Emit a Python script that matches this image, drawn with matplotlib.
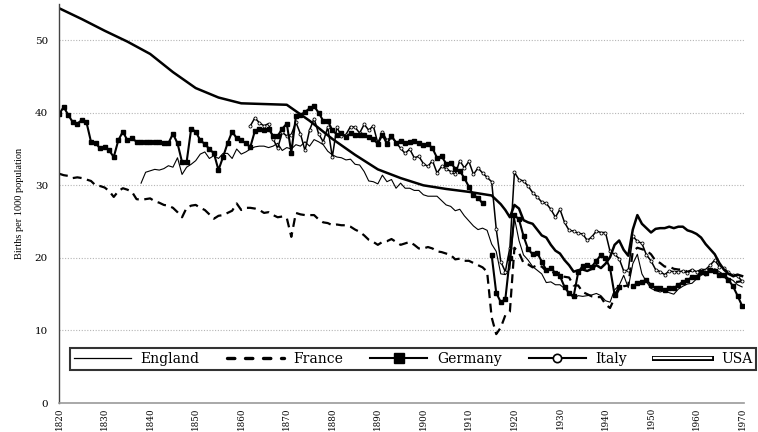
import numpy as np
import matplotlib
matplotlib.use("Agg")
import matplotlib.pyplot as plt
from matplotlib.lines import Line2D
import matplotlib.patheffects as pe

plt.rcParams['font.family'] = ['DejaVu Serif', 'Liberation Serif']

# ---------------- data (births per 1000 population) ----------------
england_years = list(range(1838, 1971))
england = [30.3, 31.8, 32.0, 32.2, 32.1, 32.3, 32.7, 32.5, 33.8, 31.5,
           32.5, 32.9, 33.4, 34.3, 34.6, 33.7, 34.1, 33.7, 34.4, 34.4,
           33.7, 35.0, 34.3, 34.6, 35.0, 35.3, 35.4, 35.4, 35.2, 35.4,
           35.8, 34.8, 35.2, 35.0, 35.6, 35.4, 36.0, 35.4, 36.3, 36.0,
           35.6, 34.7, 34.2, 33.9, 33.8, 33.5, 33.6, 32.9, 32.8, 31.9,
           30.6, 30.5, 30.2, 31.4, 30.5, 30.8, 29.6, 30.3, 29.6, 29.6,
           29.3, 29.3, 28.7, 28.5, 28.5, 28.5, 27.9, 27.3, 27.1, 26.5,
           26.7, 25.8, 25.1, 24.4, 23.9, 24.1, 23.8, 21.9, 20.9, 17.8,
           17.7, 18.5, 25.5, 22.4, 20.4, 19.7, 18.8, 18.3, 17.8, 16.6,
           16.7, 16.3, 16.3, 15.8, 15.3, 14.4, 14.8, 14.7, 14.8, 14.9,
           15.1, 14.8, 14.1, 13.9, 15.6, 16.2, 17.6, 15.9, 19.2, 20.5,
           17.8, 16.7, 15.8, 15.5, 15.3, 15.5, 15.2, 15.0, 15.7, 16.1,
           16.4, 16.5, 17.1, 17.6, 18.0, 18.2, 18.5, 18.1, 17.7, 17.2,
           16.9, 16.3, 16.0]

france_years = list(range(1820, 1971))
france = [31.6, 31.4, 31.3, 31.0, 31.1, 31.0, 30.8, 30.6, 30.0, 29.9,
          29.7, 29.2, 28.4, 29.2, 29.6, 29.4, 29.1, 28.1, 28.0, 28.1,
          28.2, 27.8, 27.6, 27.3, 27.2, 26.9, 26.3, 25.6, 26.9, 27.2,
          27.3, 26.9, 26.6, 26.0, 25.4, 25.8, 25.9, 26.2, 26.5, 27.5,
          26.6, 26.9, 26.9, 26.8, 26.6, 26.2, 26.3, 25.9, 25.6, 25.7,
          25.5, 22.9, 26.2, 26.0, 25.9, 25.9, 25.9, 25.3, 24.9, 24.8,
          24.5, 24.6, 24.5, 24.5, 24.3, 23.9, 23.6, 23.1, 22.5, 22.2,
          21.8, 22.2, 22.3, 22.6, 22.2, 21.8, 22.0, 22.2, 21.8, 21.3,
          21.3, 21.5, 21.3, 20.9, 20.8, 20.6, 20.4, 19.8, 19.9, 19.6,
          19.6, 19.3, 19.0, 18.7, 18.1, 11.8, 9.5, 10.4, 12.1, 12.6,
          21.4, 20.7, 19.3, 19.1, 18.7, 19.0, 18.8, 18.2, 18.3, 17.7,
          18.0, 17.4, 17.3, 16.2, 16.2, 15.3, 15.0, 14.7, 14.6, 14.6,
          13.6, 13.1, 14.5, 15.7, 16.1, 16.2, 20.9, 21.4, 21.2, 21.0,
          20.5, 19.6, 19.3, 18.8, 18.8, 18.5, 18.4, 18.4, 18.1, 18.3,
          17.9, 18.1, 17.6, 18.1, 18.1, 17.7, 17.5, 16.9, 16.7, 16.7,
          16.8]

germany_years = list(range(1820, 1971))
germany = [39.8, 40.8, 39.7, 38.7, 38.5, 39.0, 38.7, 36.0, 35.8, 35.1,
           35.3, 34.8, 33.9, 36.2, 37.4, 36.2, 36.5, 36.0, 36.0, 36.0,
           36.0, 36.0, 36.0, 35.8, 35.8, 37.1, 35.8, 33.2, 33.2, 37.8,
           37.4, 36.2, 35.7, 35.0, 34.4, 32.1, 33.9, 35.8, 37.4, 36.5,
           36.2, 35.8, 35.3, 37.5, 37.8, 37.6, 37.8, 36.8, 36.8, 37.8,
           38.5, 34.5, 39.5, 39.7, 40.1, 40.6, 40.9, 40.0, 38.9, 38.9,
           37.6, 37.0, 37.2, 36.6, 37.2, 37.0, 37.0, 36.9, 36.6, 36.4,
           35.7, 37.0, 35.7, 36.8, 35.9, 36.1, 35.8, 36.0, 36.1, 35.8,
           35.6, 35.7, 35.1, 33.8, 34.0, 33.0, 33.1, 32.3, 32.0, 31.0,
           29.8, 28.6, 28.3, 27.5, np.nan, 20.4, 15.2, 13.9, 14.3, 20.0,
           25.9, 25.3, 23.0, 21.2, 20.5, 20.7, 19.5, 18.3, 18.6, 17.9,
           17.5, 16.0, 15.1, 14.7, 18.0, 18.9, 19.0, 18.8, 19.6, 20.4,
           20.0, 18.6, 14.9, 16.0, np.nan, np.nan, 16.1, 16.5, 16.7, 16.9,
           16.3, 15.8, 15.8, 15.6, 15.8, 15.8, 16.3, 16.7, 16.9, 17.4,
           17.4, 18.0, 17.9, 18.3, 18.2, 17.7, 17.6, 17.0, 16.1, 14.8,
           13.4]

italy_years = list(range(1862, 1971))
italy = [38.2, 39.3, 38.6, 38.2, 38.5, 36.4, 35.1, 37.3, 36.8, 37.0,
         38.7, 37.1, 34.8, 37.6, 39.2, 37.1, 36.0, 38.0, 33.9, 38.0,
         36.8, 37.0, 38.1, 38.0, 37.2, 38.4, 37.6, 38.2, 35.8, 37.3,
         36.2, 36.7, 35.9, 35.1, 34.4, 35.0, 33.8, 34.0, 33.0, 32.6,
         33.4, 31.7, 32.6, 32.3, 31.9, 31.5, 33.4, 32.4, 33.3, 31.5,
         32.4, 31.7, 31.1, 30.5, 24.0, 19.5, 18.1, 21.4, 31.8, 30.8,
         30.6, 29.9, 29.0, 28.4, 27.7, 27.5, 26.7, 25.6, 26.7, 24.9,
         23.8, 23.7, 23.4, 23.3, 22.4, 22.9, 23.7, 23.5, 23.5, 20.9,
         20.5, 19.9, 18.2, 18.3, 23.0, 22.3, 22.0, 20.4, 19.6, 18.4,
         18.1, 17.7, 18.2, 18.1, 18.1, 18.2, 17.9, 18.4, 18.1, 18.4,
         18.4, 19.0, 19.7, 18.8, 18.6, 18.0, 17.6, 17.5, 16.8]

usa_years = [1820, 1825, 1830, 1835, 1840, 1845, 1850, 1855, 1860, 1865,
             1870, 1875, 1880, 1885, 1890, 1895, 1900, 1905] + list(range(1910, 1971))
usa = [54.4, 52.9, 51.3, 49.8, 48.1, 45.6, 43.4, 42.1, 41.3, 41.2,
       41.1, 38.9, 36.4, 34.2, 32.2, 31.0, 30.0, 29.5,
       29.1, 29.0, 28.9, 28.8, 28.7, 28.6, 28.0, 27.4, 26.6, 25.6,
       27.3, 26.8, 25.2, 24.9, 24.7, 23.9, 23.1, 22.8, 21.8, 21.0,
       20.6, 19.7, 19.0, 18.1, 18.3, 18.4, 18.2, 18.5, 19.0, 18.6,
       19.2, 20.1, 21.8, 22.4, 21.1, 20.3, 23.9, 25.9, 24.7, 24.1,
       23.5, 24.0, 24.1, 24.1, 24.3, 24.1, 24.3, 24.3, 23.8, 23.6,
       23.3, 22.8, 21.9, 21.2, 20.5, 19.3, 18.4, 17.8, 17.5, 17.7,
       17.5]

series_names = ["England", "France", "Germany", "Italy", "USA"]
x_ticks = list(range(1820, 1971, 10))
y_ticks = [0, 10, 20, 30, 40, 50]

# ---------------- figure ----------------
fig = plt.figure(figsize=(7.58, 4.32), dpi=100)
ax = fig.add_axes([0.078, 0.067, 0.904, 0.924])

ax.plot(france_years, france, color='black', lw=1.6, ls=(0, (4, 2.5)))
ax.plot(england_years, england, color='black', lw=0.8)
ax.plot(italy_years, italy, color='black', lw=1.1, marker='o', ms=2.2,
        mfc='white', mec='black', mew=0.6)
ax.plot(germany_years, germany, color='black', lw=1.5, marker='s', ms=2.2,
        mfc='black', mec='black')
ax.plot(usa_years, usa, color='black', lw=1.8)

ax.set_xlim(1820, 1970.5)
ax.set_ylim(0, 55)
ax.set_xticks(x_ticks)
ax.set_xticklabels([str(t) for t in x_ticks], rotation=90, fontsize=6.3)
ax.set_yticks(y_ticks)
ax.set_yticklabels([str(t) for t in y_ticks], fontsize=7.5)
ax.tick_params(axis='y', length=0, pad=8)
ax.tick_params(axis='x', length=0, pad=3)
for s in ['top', 'right']:
    ax.spines[s].set_visible(False)
ax.spines['left'].set_color('#444444')
ax.spines['left'].set_linewidth(1.0)
ax.spines['bottom'].set_color('#999999')
ax.spines['bottom'].set_linestyle((0, (1, 1)))
ax.spines['bottom'].set_linewidth(1.2)
for yv in y_ticks[1:]:
    ax.axhline(yv, color='#b5b5b5', lw=0.8, ls=(0, (1, 1.5)), zorder=0)
ax.set_ylabel("Births per 1000 population", fontsize=7.5, labelpad=8,
              family='Liberation Serif')

# ---------------- legend ----------------
handles = [
    Line2D([], [], color='black', lw=0.9),
    Line2D([], [], color='black', lw=2.4, ls=(0, (2.2, 3.2)), dash_capstyle='round'),
    Line2D([], [], color='black', lw=1.5, marker='s', ms=7, mfc='black'),
    Line2D([], [], color='black', lw=1.5, marker='o', ms=6, mfc='white', mew=1.2),
    Line2D([], [], color='white', lw=1.6,
           path_effects=[pe.Stroke(linewidth=3.6, foreground='black'), pe.Normal()]),
]
leg = fig.legend(handles, series_names, loc='lower left',
                 bbox_to_anchor=(0.092, 0.143, 0.906, 0.054), mode='expand',
                 ncol=5, frameon=True, fancybox=False, fontsize=10,
                 handlelength=4.1, handletextpad=0.7, borderaxespad=0,
                 borderpad=0.3, columnspacing=1.0)
leg.get_frame().set_edgecolor('black')
leg.get_frame().set_linewidth(1.5)

fig.savefig("out.png", dpi=100)
